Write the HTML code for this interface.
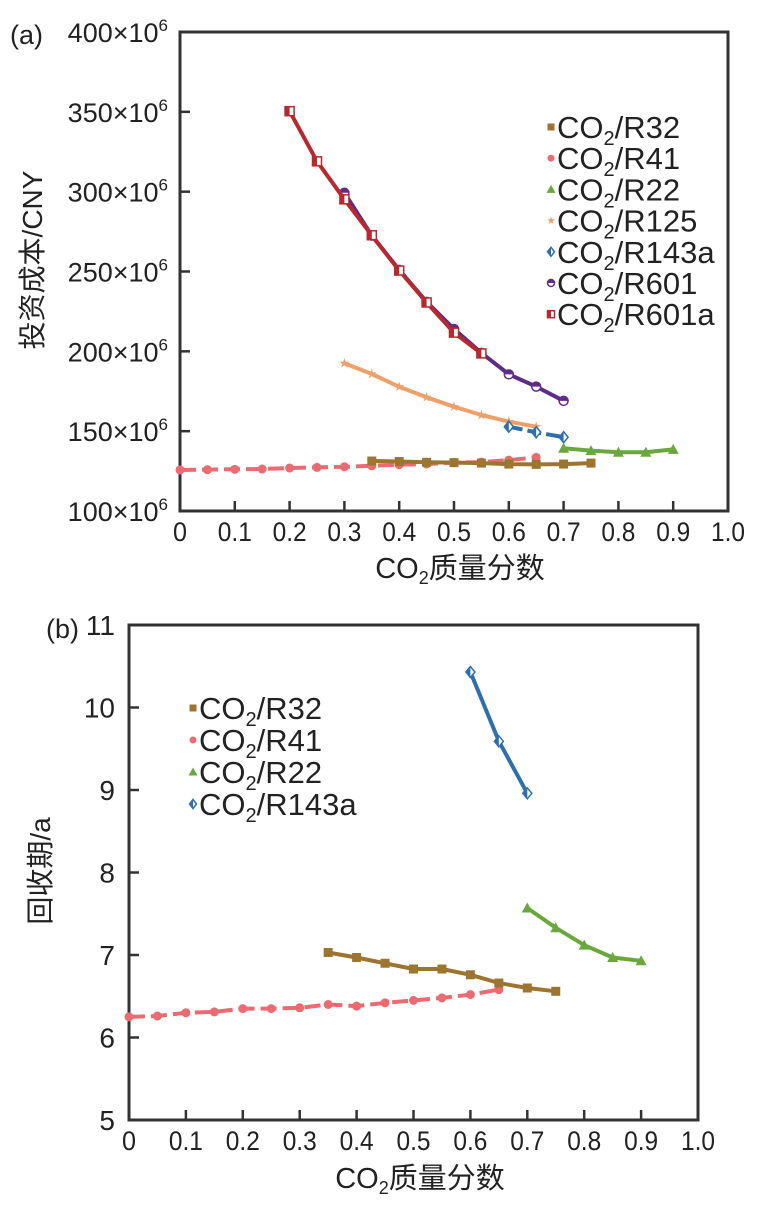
<!DOCTYPE html>
<html><head><meta charset="utf-8"><style>
html,body{margin:0;padding:0;background:#fff;}
svg{display:block;font-family:"Liberation Sans","Noto Sans CJK SC",sans-serif;}
</style></head><body>
<svg id="chart" width="770" height="1206" viewBox="0 0 770 1206" xmlns="http://www.w3.org/2000/svg">
<g id="pa"></g>
<g id="pb"></g>
</svg>
<script>
const xCats=[0,0.05,0.1,0.15,0.2,0.25,0.3,0.35,0.4,0.45,0.5,0.55,0.6,0.65,0.7,0.75,0.8,0.85,0.9];
const xTickLabels=["0","0.1","0.2","0.3","0.4","0.5","0.6","0.7","0.8","0.9","1.0"];
const aTickValues=[100,150,200,250,300,350,400];
const bTickLabels=["5","6","7","8","9","10","11"];
// panel a (x start, values in 1e6 CNY)
const aR32X=0.35, aR32=[131.3,131,130.5,130.3,130,129.4,129.2,129.4,130];
const aR41X=0, aR41=[125.7,125.9,126.1,126.3,126.9,127.3,127.7,128.3,129,129.4,130.3,130.6,131.9,133.6];
const aR22X=0.7, aR22=[139.3,137.8,136.8,136.8,138.6];
const aR125X=0.3, aR125=[192.5,185.8,177.8,171.2,165.3,160.1,156,152.8];
const aR143aX=0.6, aR143a=[152.8,149.3,146.2];
const aR601X=0.3, aR601=[299.3,272.5,251,231,214,199,185.6,177.9,169];
const aR601aX=0.2, aR601a=[350.4,319,295.2,272.7,250.6,230.6,211.7,198.7];
// panel b (payback years)
const bR32X=0.35, bR32=[7.03,6.97,6.90,6.83,6.83,6.76,6.66,6.60,6.56];
const bR41X=0, bR41=[6.25,6.26,6.30,6.31,6.35,6.35,6.36,6.40,6.38,6.42,6.45,6.48,6.52,6.58];
const bR22X=0.7, bR22=[7.57,7.33,7.12,6.97,6.93];
const bR143aX=0.6, bR143a=[10.43,9.59,8.96];

const NS="http://www.w3.org/2000/svg";
function el(parent,tag,attrs,text){const e=document.createElementNS(NS,tag);for(const k in attrs)e.setAttribute(k,attrs[k]);if(text!==undefined)e.textContent=text;parent.appendChild(e);return e;}

const C={R32:"#9c7530",R41:"#eb6b72",R22:"#6aa83e",R125:"#eea06a",R143a:"#2f6fad",R601:"#5e2d86",R601a:"#b8282e"};

function marker(g,type,x,y,color,s){
  s=s||4.5;
  let m;
  if(type==="square"){m=el(g,"rect",{x:x-s,y:y-s,width:2*s,height:2*s,fill:color});}
  else if(type==="circle"){m=el(g,"circle",{cx:x,cy:y,r:s,fill:color});}
  else if(type==="triangle"){m=el(g,"polygon",{points:`${x},${y-s-1} ${x-s-1},${y+s} ${x+s+1},${y+s}`,fill:color});}
  else if(type==="star"){let p=[];for(let i=0;i<10;i++){const r=i%2?s*0.45:s*1.2;const a=-Math.PI/2+i*Math.PI/5;p.push((x+r*Math.cos(a)).toFixed(1)+","+(y+r*Math.sin(a)).toFixed(1));}m=el(g,"polygon",{points:p.join(" "),fill:color});}
  else if(type==="diamond"){m=el(g,"g",{});el(m,"polygon",{points:`${x},${y-s-1} ${x+s},${y} ${x},${y+s+1} ${x-s},${y}`,fill:"#fff",stroke:color,"stroke-width":1.5});el(m,"polygon",{points:`${x},${y-s-1} ${x},${y+s+1} ${x-s},${y}`,fill:color});}
  else if(type==="hcircle"){m=el(g,"g",{});el(m,"circle",{cx:x,cy:y,r:s,fill:"#fff",stroke:color,"stroke-width":1.5});el(m,"path",{d:`M${x-s},${y} A${s},${s} 0 0 1 ${x+s},${y} Z`,fill:color});}
  else if(type==="hsquare"){m=el(g,"g",{});el(m,"rect",{x:x-s,y:y-s,width:2*s,height:2*s,fill:"#fff",stroke:color,"stroke-width":1.5});el(m,"rect",{x:x-s,y:y-s,width:s,height:2*s,fill:color});}
  return m;
}

function series(g,name,x0,vals,sx,sy,color,mtype,dash){
  const sg=el(g,"g",{});
  
  
  const pts=vals.map((v,i)=>[sx(x0+i*0.05),sy(v)]);
  const line=el(sg,"polyline",{points:pts.map(p=>p[0].toFixed(1)+","+p[1].toFixed(1)).join(" "),fill:"none",stroke:color,"stroke-width":4,"stroke-linejoin":"round"});
  if(dash)line.setAttribute("stroke-dasharray",dash);
  
  
  pts.forEach((p,i)=>{const m=marker(sg,mtype,p[0],p[1],color);
    
    });
}

function legend(g,items,x,y0,dy){
  items.forEach((it,i)=>{
    const y=y0+i*dy;
    const lg=el(g,"g",{});
    
    
    marker(lg,it[2],x,y,it[1],3.5);
    const t=el(lg,"text",{x:x+6,y:y+11,"font-size":31,fill:"#222"});
    el(t,"tspan",{},"CO");
    el(t,"tspan",{"font-size":20,dy:7},"2");
    el(t,"tspan",{dy:-7},"/"+it[0]);
  });
}

function axesBox(g,L,R,T,B){
  const ax=el(g,"rect",{x:L,y:T,width:R-L,height:B-T,fill:"none",stroke:"#333","stroke-width":3});
  
  
}

// ---------- Panel A ----------
(function(){
  const g=document.getElementById("pa");
  const L=180,R=728,T=32,B=511;
  const sx=v=>L+(R-L)*v;
  const sy=v=>B-(v-100)/300*(B-T);
  axesBox(g,L,R,T,B);
  xTickLabels.forEach((lab,i)=>{const x=sx(i/10);
    if(i>0&&i<10)el(g,"line",{x1:x,x2:x,y1:B,y2:B-10,stroke:"#333","stroke-width":2.5});
    const t=el(g,"text",{x:x,y:B+30,"font-size":27,"text-anchor":"middle",fill:"#222",textLength:lab.length>1?34:14,lengthAdjust:"spacingAndGlyphs"},lab);
    
    });
  aTickValues.forEach(v=>{const y=sy(v);
    if(v>100&&v<400)el(g,"line",{x1:L,x2:L+10,y1:y,y2:y,stroke:"#333","stroke-width":2.5});
    const t=el(g,"text",{x:L-12,y:y+10,"font-size":27,"text-anchor":"end",fill:"#222"});
    
    
    el(t,"tspan",{},v+"×10");
    el(t,"tspan",{"font-size":17,dy:-11},"6");});
  const xt=el(g,"text",{x:460,y:578,"font-size":29,"text-anchor":"middle",fill:"#222"});
  
  
  el(xt,"tspan",{},"CO");el(xt,"tspan",{"font-size":18,dy:6},"2");el(xt,"tspan",{dy:-6},"质量分数");
  const yt=el(g,"text",{x:0,y:0,"font-size":28,"text-anchor":"middle",fill:"#222",transform:"translate(42,260) rotate(-90)"},"投资成本/CNY");
  
  
  const pl=el(g,"text",{x:10,y:44,"font-size":27,fill:"#222"},"(a)");
  
  
  series(g,"a-R41",aR41X,aR41,sx,sy,C.R41,"circle","16 6");
  series(g,"a-R32",aR32X,aR32,sx,sy,C.R32,"square");
  series(g,"a-R22",aR22X,aR22,sx,sy,C.R22,"triangle");
  series(g,"a-R125",aR125X,aR125,sx,sy,C.R125,"star");
  series(g,"a-R143a",aR143aX,aR143a,sx,sy,C.R143a,"diamond","14 5");
  series(g,"a-R601",aR601X,aR601,sx,sy,C.R601,"hcircle");
  series(g,"a-R601a",aR601aX,aR601a,sx,sy,C.R601a,"hsquare");
  legend(g,[["R32",C.R32,"square"],["R41",C.R41,"circle"],["R22",C.R22,"triangle"],["R125",C.R125,"star"],["R143a",C.R143a,"diamond"],["R601",C.R601,"hcircle"],["R601a",C.R601a,"hsquare"]],551,127,31.2);
})();

// ---------- Panel B ----------
(function(){
  const g=document.getElementById("pb");
  const L=129,R=698,T=625,B=1120;
  const sx=v=>L+(R-L)*v;
  const sy=v=>B-(v-5)/6*(B-T);
  axesBox(g,L,R,T,B);
  xTickLabels.forEach((lab,i)=>{const x=sx(i/10);
    if(i>0&&i<10)el(g,"line",{x1:x,x2:x,y1:B,y2:B-10,stroke:"#333","stroke-width":2.5});
    const t=el(g,"text",{x:x,y:B+30,"font-size":27,"text-anchor":"middle",fill:"#222",textLength:lab.length>1?34:14,lengthAdjust:"spacingAndGlyphs"},lab);
    
    });
  bTickLabels.forEach((lab,i)=>{const y=sy(5+i);
    if(i>0&&i<6)el(g,"line",{x1:L,x2:L+10,y1:y,y2:y,stroke:"#333","stroke-width":2.5});
    const t=el(g,"text",{x:L-14,y:y+10,"font-size":28,"text-anchor":"end",fill:"#222"},lab);
    
    });
  const xt=el(g,"text",{x:420,y:1188,"font-size":29,"text-anchor":"middle",fill:"#222"});
  
  
  el(xt,"tspan",{},"CO");el(xt,"tspan",{"font-size":18,dy:6},"2");el(xt,"tspan",{dy:-6},"质量分数");
  const yt=el(g,"text",{x:0,y:0,"font-size":28,"text-anchor":"middle",fill:"#222",transform:"translate(50,871) rotate(-90)"},"回收期/a");
  
  
  const pl=el(g,"text",{x:46,y:638,"font-size":27,fill:"#222"},"(b)");
  
  
  series(g,"b-R41",bR41X,bR41,sx,sy,C.R41,"circle","16 6");
  series(g,"b-R32",bR32X,bR32,sx,sy,C.R32,"square");
  series(g,"b-R22",bR22X,bR22,sx,sy,C.R22,"triangle");
  series(g,"b-R143a",bR143aX,bR143a,sx,sy,C.R143a,"diamond");
  legend(g,[["R32",C.R32,"square"],["R41",C.R41,"circle"],["R22",C.R22,"triangle"],["R143a",C.R143a,"diamond"]],193,708,32);
})();
</script>
</body></html>
